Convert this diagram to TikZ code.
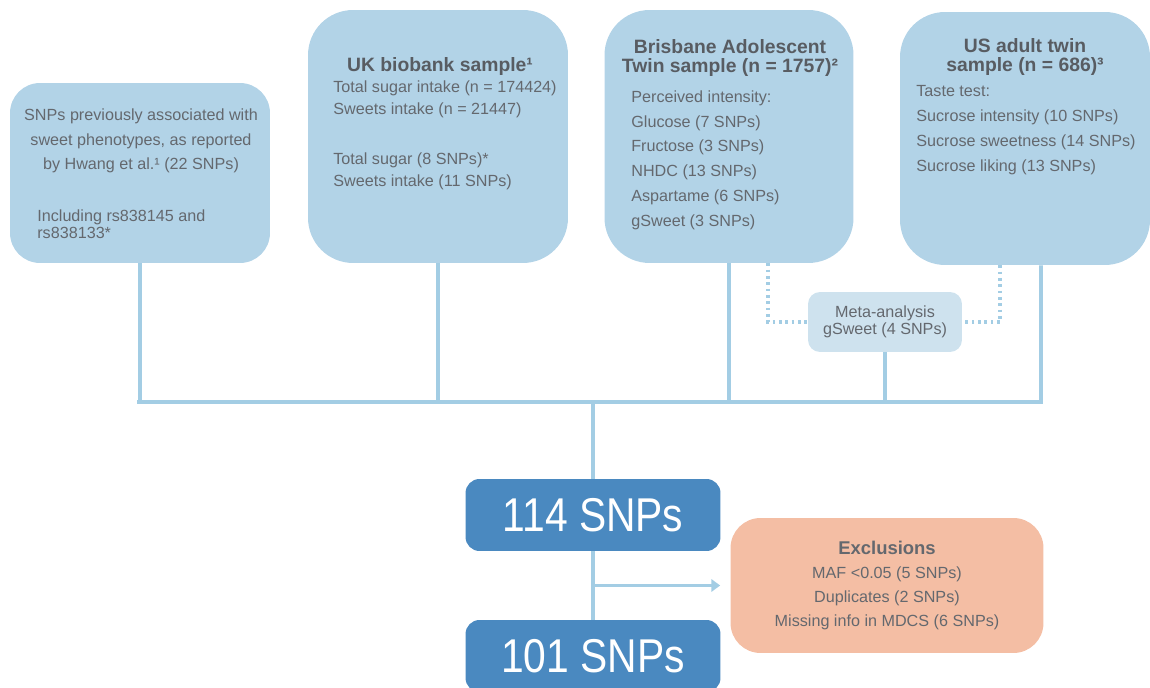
\documentclass[tikz,border=0pt]{standalone}
\usepackage{fontspec}
\setmainfont{Liberation Sans}
\newfontfamily\bignum[FakeStretch=0.86]{Liberation Sans}
\usepackage{xcolor}
\usetikzlibrary{positioning,arrows.meta}

\definecolor{boxblue}{RGB}{178,211,231}
\definecolor{metablue}{RGB}{206,226,238}
\definecolor{linkblue}{RGB}{163,205,228}
\definecolor{darkblue}{RGB}{74,137,192}
\definecolor{salmon}{RGB}{244,190,164}
\definecolor{txtgrey}{RGB}{100,104,110}
\definecolor{hdgrey}{RGB}{88,92,98}

\begin{document}
\begin{tikzpicture}
[
x=0.02cm, y=-0.02cm,
src-a/.style={fill=boxblue, rounded corners=0.9cm, inner sep=0pt},
txt-a/.style={text=txtgrey, inner sep=0pt, font=\fontsize{9.2}{14.2}\selectfont},
hd-a/.style={text=hdgrey, inner sep=0pt, align=center, font=\bfseries\fontsize{11}{10.8}\selectfont},
res-a/.style={fill=darkblue, rounded corners=0.28cm, minimum width=5.1cm, minimum height=1.44cm, text=white, font=\bignum\fontsize{27}{27}\selectfont},
link-a/.style={draw=linkblue, line width=2.2pt},
link-b/.style={draw=linkblue, line width=2.2pt, dash pattern=on 1.6pt off 2pt}
]
\useasboundingbox (0,0) rectangle (1150,688);
\clip (0,0) rectangle (1150,688);

% source boxes
\node (box-hw)  [src-a, rounded corners=0.6cm, minimum width=5.2cm,  minimum height=3.6cm]  at (140,173)   {};
\node (box-uk)  [src-a, minimum width=5.2cm,  minimum height=5.06cm] at (438,136.5) {};
\node (box-bat) [src-a, minimum width=4.98cm, minimum height=5.06cm] at (729,136.5) {};
\node (box-us)  [src-a, minimum width=5.0cm,  minimum height=5.06cm] at (1025,138.5) {};

\node (hw-txt)  [txt-a, align=center, anchor=north]     at (141,108) {SNPs previously associated with\\sweet phenotypes, as reported\\by Hwang et al.¹ (22 SNPs)};
\node (hw-inc)  [txt-a, align=left, anchor=north west, font=\fontsize{9.2}{10.2}\selectfont] at (37,209) {Including rs838145 and\\rs838133*};

\node (uk-hd)   [hd-a]                                   at (440,67)  {UK biobank sample¹};
\node (uk-n)    [txt-a, align=left, anchor=north west, font=\fontsize{9.2}{13}\selectfont] at (333,80)  {Total sugar intake (n = 174424)\\Sweets intake (n = 21447)};
\node (uk-snp)  [txt-a, align=left, anchor=north west, font=\fontsize{9.2}{13}\selectfont] at (333,152) {Total sugar (8 SNPs)*\\Sweets intake (11 SNPs)};

\node (bat-hd)  [hd-a, anchor=north]                     at (730,39)  {Brisbane Adolescent\\Twin sample (n = 1757)²};
\node (bat-txt) [txt-a, align=left, anchor=north west]   at (631,90)  {Perceived intensity:\\Glucose (7 SNPs)\\Fructose (3 SNPs)\\NHDC (13 SNPs)\\Aspartame (6 SNPs)\\gSweet (3 SNPs)};

\node (us-hd)   [hd-a, anchor=north]                     at (1025,38) {US adult twin\\sample (n = 686)³};
\node (us-txt)  [txt-a, align=left, anchor=north west]   at (916,85)  {Taste test:\\Sucrose intensity (10 SNPs)\\Sucrose sweetness (14 SNPs)\\Sucrose liking (13 SNPs)};

% meta-analysis
\node (meta)    [txt-a, fill=metablue, rounded corners=0.24cm, minimum width=3.08cm, minimum height=1.2cm, align=center, font=\fontsize{9.2}{9.6}\selectfont] at (885,322) {Meta-analysis\\gSweet (4 SNPs)};

% results
\node (snp-114) [res-a] at (593,515) {114 SNPs};
\node (snp-101) [res-a] at (593,656) {101 SNPs};
\node (excl)    [txt-a, fill=salmon, rounded corners=0.6cm, minimum width=6.26cm, minimum height=2.7cm, align=center, font=\fontsize{9.2}{13.6}\selectfont] at (887,585.5) {{\bfseries\fontsize{10.5}{13.6}\selectfont Exclusions}\\MAF <0.05 (5 SNPs)\\Duplicates (2 SNPs)\\Missing info in MDCS (6 SNPs)};

% connectors
\coordinate (bus-l) at (139,402);
\coordinate (bus-r) at (1041,402);
\coordinate (bus-c) at (593,402);
\coordinate (cut)   at (593,585.5);

\draw [link-a, line cap=rect] (bus-l) -- (bus-r);
\draw [link-a] (box-hw.south)  -- (box-hw.south |- bus-l);
\draw [link-a] (box-uk.south)  -- (box-uk.south |- bus-l);
\draw [link-a] (box-bat.south) -- (box-bat.south |- bus-l);
\draw [link-a] ([xshift=0.32cm]box-us.south) -- (bus-r);
\draw [link-a] (meta.south) -- (meta.south |- bus-l);
\draw [link-b] ([xshift=0.78cm]box-bat.south) |- (meta.west);
\draw [link-b] ([xshift=-0.5cm]box-us.south)  |- (meta.east);
\draw [link-a] (bus-c) -- (snp-114.north);
\draw [link-a] (snp-114.south) -- (snp-101.north);
\draw [link-a, -{Triangle[length=5pt,width=7pt]}, shorten >=0.2cm] (cut) -- (excl.west);
\end{tikzpicture}
\end{document}
